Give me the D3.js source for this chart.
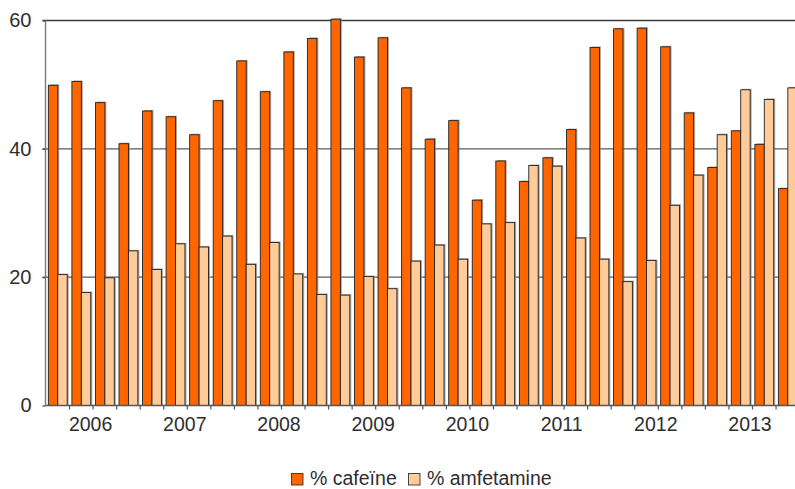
<!DOCTYPE html>
<html>
<head>
<meta charset="utf-8">
<script src="https://cdn.jsdelivr.net/npm/d3@7"></script>
<style>
  html, body { margin: 0; padding: 0; background: #fff; }
  svg { display: block; font-family: "Liberation Sans", Arial, sans-serif; }
</style>
</head>
<body>
<svg id="chart" width="795" height="489"></svg>
<script>
// Quarterly shares, 2006 Q1 – 2013 Q4
const years = ["2006", "2007", "2008", "2009", "2010", "2011", "2012", "2013"];
const quarters = ["Q1", "Q2", "Q3", "Q4"];
const cafeine = [
  49.9, 50.5, 47.2, 40.8,
  45.9, 45.0, 42.2, 47.5,
  53.7, 48.9, 55.1, 57.2,
  60.2, 54.3, 57.3, 49.5,
  41.5, 44.4, 32.0, 38.1,
  34.9, 38.6, 43.0, 55.8,
  58.7, 58.8, 55.9, 45.6,
  37.1, 42.8, 40.7, 33.8
];
const amfetamine = [
  20.4, 17.6, 19.9, 24.1,
  21.2, 25.2, 24.7, 26.4,
  22.0, 25.4, 20.5, 17.3,
  17.2, 20.1, 18.2, 22.5,
  25.0, 22.8, 28.3, 28.5,
  37.4, 37.3, 26.1, 22.8,
  19.3, 22.6, 31.2, 35.9,
  42.2, 49.2, 47.7, 49.5
];
const seriesNames = ["% cafeïne", "% amfetamine"];
const seriesColors = ["#ff6600", "#ffcc99"];
const yTicks = [0, 20, 40, 60];

const periods = years.flatMap(y => quarters.map(q => y + " " + q));
const rows = periods.map((p, i) => ({ period: p, values: [cafeine[i], amfetamine[i]] }));

const svg = d3.select("#chart");
const plotLeft = 45.5, plotTop = 20.5, plotBottom = 405.5, step = 23.55;
const fontSize = 19.5, textColor = "#2e2e2e";

const x = d3.scaleBand()
  .domain(periods)
  .range([plotLeft + 0.5, plotLeft + 0.5 + step * periods.length])
  .padding(0);
const xs = d3.scaleBand()
  .domain([0, 1])
  .range([0, x.bandwidth()])
  .paddingInner(0)
  .paddingOuter(0.25);
const y = d3.scaleLinear().domain([0, 60]).range([plotBottom, plotTop]);

// horizontal gridlines
svg.append("g")
  .selectAll("line")
  .data(yTicks.filter(t => t > 0))
  .join("line")
  .attr("x1", plotLeft - 3).attr("x2", 795)
  .attr("y1", d => y(d)).attr("y2", d => y(d))
  .attr("stroke", d => d === 60 ? "#3a3a3a" : "#5a5a5a")
  .attr("stroke-width", 1.4);

// bars
const groups = svg.append("g")
  .selectAll("g")
  .data(rows)
  .join("g")
  .attr("transform", d => `translate(${x(d.period)},0)`);

const bars = groups.selectAll("g")
  .data(d => d.values.map((v, k) => ({ k, v })))
  .join("g");

// soft drop shadow to the right of each bar
bars.append("rect")
  .attr("x", d => xs(d.k) + 1.5)
  .attr("y", d => y(d.v) - 1)
  .attr("width", xs.bandwidth())
  .attr("height", d => plotBottom - y(d.v) + 1)
  .attr("fill", "#8a8a8a")
  .attr("opacity", 0.75);

bars.append("rect")
  .attr("x", d => xs(d.k))
  .attr("y", d => y(d.v))
  .attr("width", xs.bandwidth())
  .attr("height", d => plotBottom - y(d.v))
  .attr("fill", d => seriesColors[d.k])
  .attr("stroke", "#222")
  .attr("stroke-width", 0.9);

// y axis
const yAxis = svg.append("g").attr("transform", `translate(${plotLeft},0)`)
  .call(d3.axisLeft(y).tickValues(yTicks).tickSize(3).tickFormat(d3.format("d")));
yAxis.select(".domain").attr("stroke", "#7a7a7a").attr("stroke-width", 1.4)
  .attr("d", `M0,${plotTop}V${plotBottom}`);
yAxis.selectAll(".tick line").attr("stroke", "#555").attr("stroke-width", 1.4);
yAxis.selectAll(".tick text")
  .attr("x", -14)
  .attr("font-size", fontSize + 0.5)
  .attr("fill", textColor)
  .attr("font-family", "'Liberation Sans', Arial, sans-serif");

// x axis baseline and quarter ticks
svg.append("line")
  .attr("x1", plotLeft).attr("x2", 795)
  .attr("y1", plotBottom).attr("y2", plotBottom)
  .attr("stroke", "#555").attr("stroke-width", 1.4);
svg.append("g")
  .selectAll("line")
  .data(periods.slice(1))
  .join("line")
  .attr("x1", d => x(d)).attr("x2", d => x(d))
  .attr("y1", plotBottom).attr("y2", plotBottom + 4)
  .attr("stroke", "#555").attr("stroke-width", 1.2);

// year labels centred under each run of four quarters
svg.append("g")
  .selectAll("text")
  .data(years)
  .join("text")
  .attr("x", yr => {
    const first = x(yr + " Q1");
    const last = x(yr + " Q4") + x.bandwidth();
    return (first + last) / 2 - 2.5;
  })
  .attr("y", 430.5)
  .attr("text-anchor", "middle")
  .attr("font-size", fontSize)
  .attr("fill", textColor)
  .text(d => d);

// legend
const legend = svg.append("g");
const legendX = [291.5, 408.5];
seriesNames.forEach((name, k) => {
  legend.append("rect")
    .attr("x", legendX[k]).attr("y", 473.5)
    .attr("width", 11.5).attr("height", 11.5)
    .attr("fill", seriesColors[k])
    .attr("stroke", "#333").attr("stroke-width", 0.9);
  legend.append("text")
    .attr("x", legendX[k] + 18.5).attr("y", 485)
    .attr("font-size", fontSize)
    .attr("fill", textColor)
    .text(name);
});
</script>
</body>
</html>
